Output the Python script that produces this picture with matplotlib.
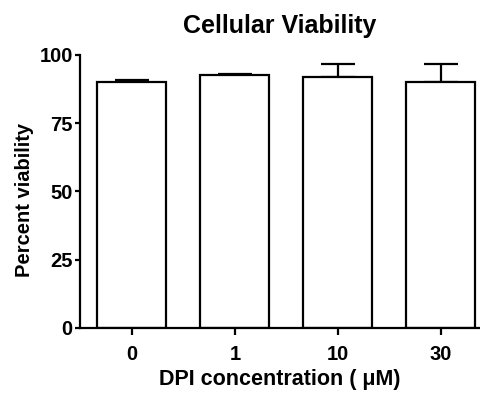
import numpy as np
import matplotlib.pyplot as plt

plt.rcParams['font.family'] = ['Liberation Sans', 'DejaVu Sans']
plt.rcParams['font.weight'] = 'bold'

concentrations = ['0', '1', '10', '30']
viability = [90.1, 92.7, 91.8, 89.9]
sem = [0.7, 0.4, 4.7, 6.6]

fig = plt.figure(figsize=(4.81, 3.95), dpi=100)
ax = fig.add_axes([0.166, 0.170, 0.832, 0.691])

x = np.arange(len(concentrations))
ax.bar(x, viability, 0.67, color='white', edgecolor='black', linewidth=1.6,
       zorder=2)
ax.errorbar(x, viability, yerr=[np.zeros(len(sem)), sem], fmt='none',
            ecolor='black', elinewidth=1.6, capsize=12.5, capthick=1.6, zorder=1)

ax.set_xlim(-0.505, 3.38)
ax.set_ylim(0, 100)
ax.set_yticks([0, 25, 50, 75, 100])
ax.set_xticks(x)
ax.set_xticklabels(concentrations)

for side in ['top', 'right']:
    ax.spines[side].set_visible(False)
for side in ['left', 'bottom']:
    ax.spines[side].set_linewidth(1.6)
ax.tick_params(axis='y', length=3.6, width=1.6, labelsize=14.5, pad=1.5)
ax.tick_params(axis='x', length=5, width=1.6, labelsize=14.5, pad=7)

ax.set_title('Cellular Viability', fontsize=18, fontweight='bold', pad=16)
ax.set_xlabel('DPI concentration ( μM)', fontsize=15.5, fontweight='bold', labelpad=4)
ax.set_ylabel('Percent viability', fontsize=14.5, fontweight='bold')
ax.yaxis.set_label_coords(-0.115, 0.47)

fig.savefig('out.png', dpi=100)
